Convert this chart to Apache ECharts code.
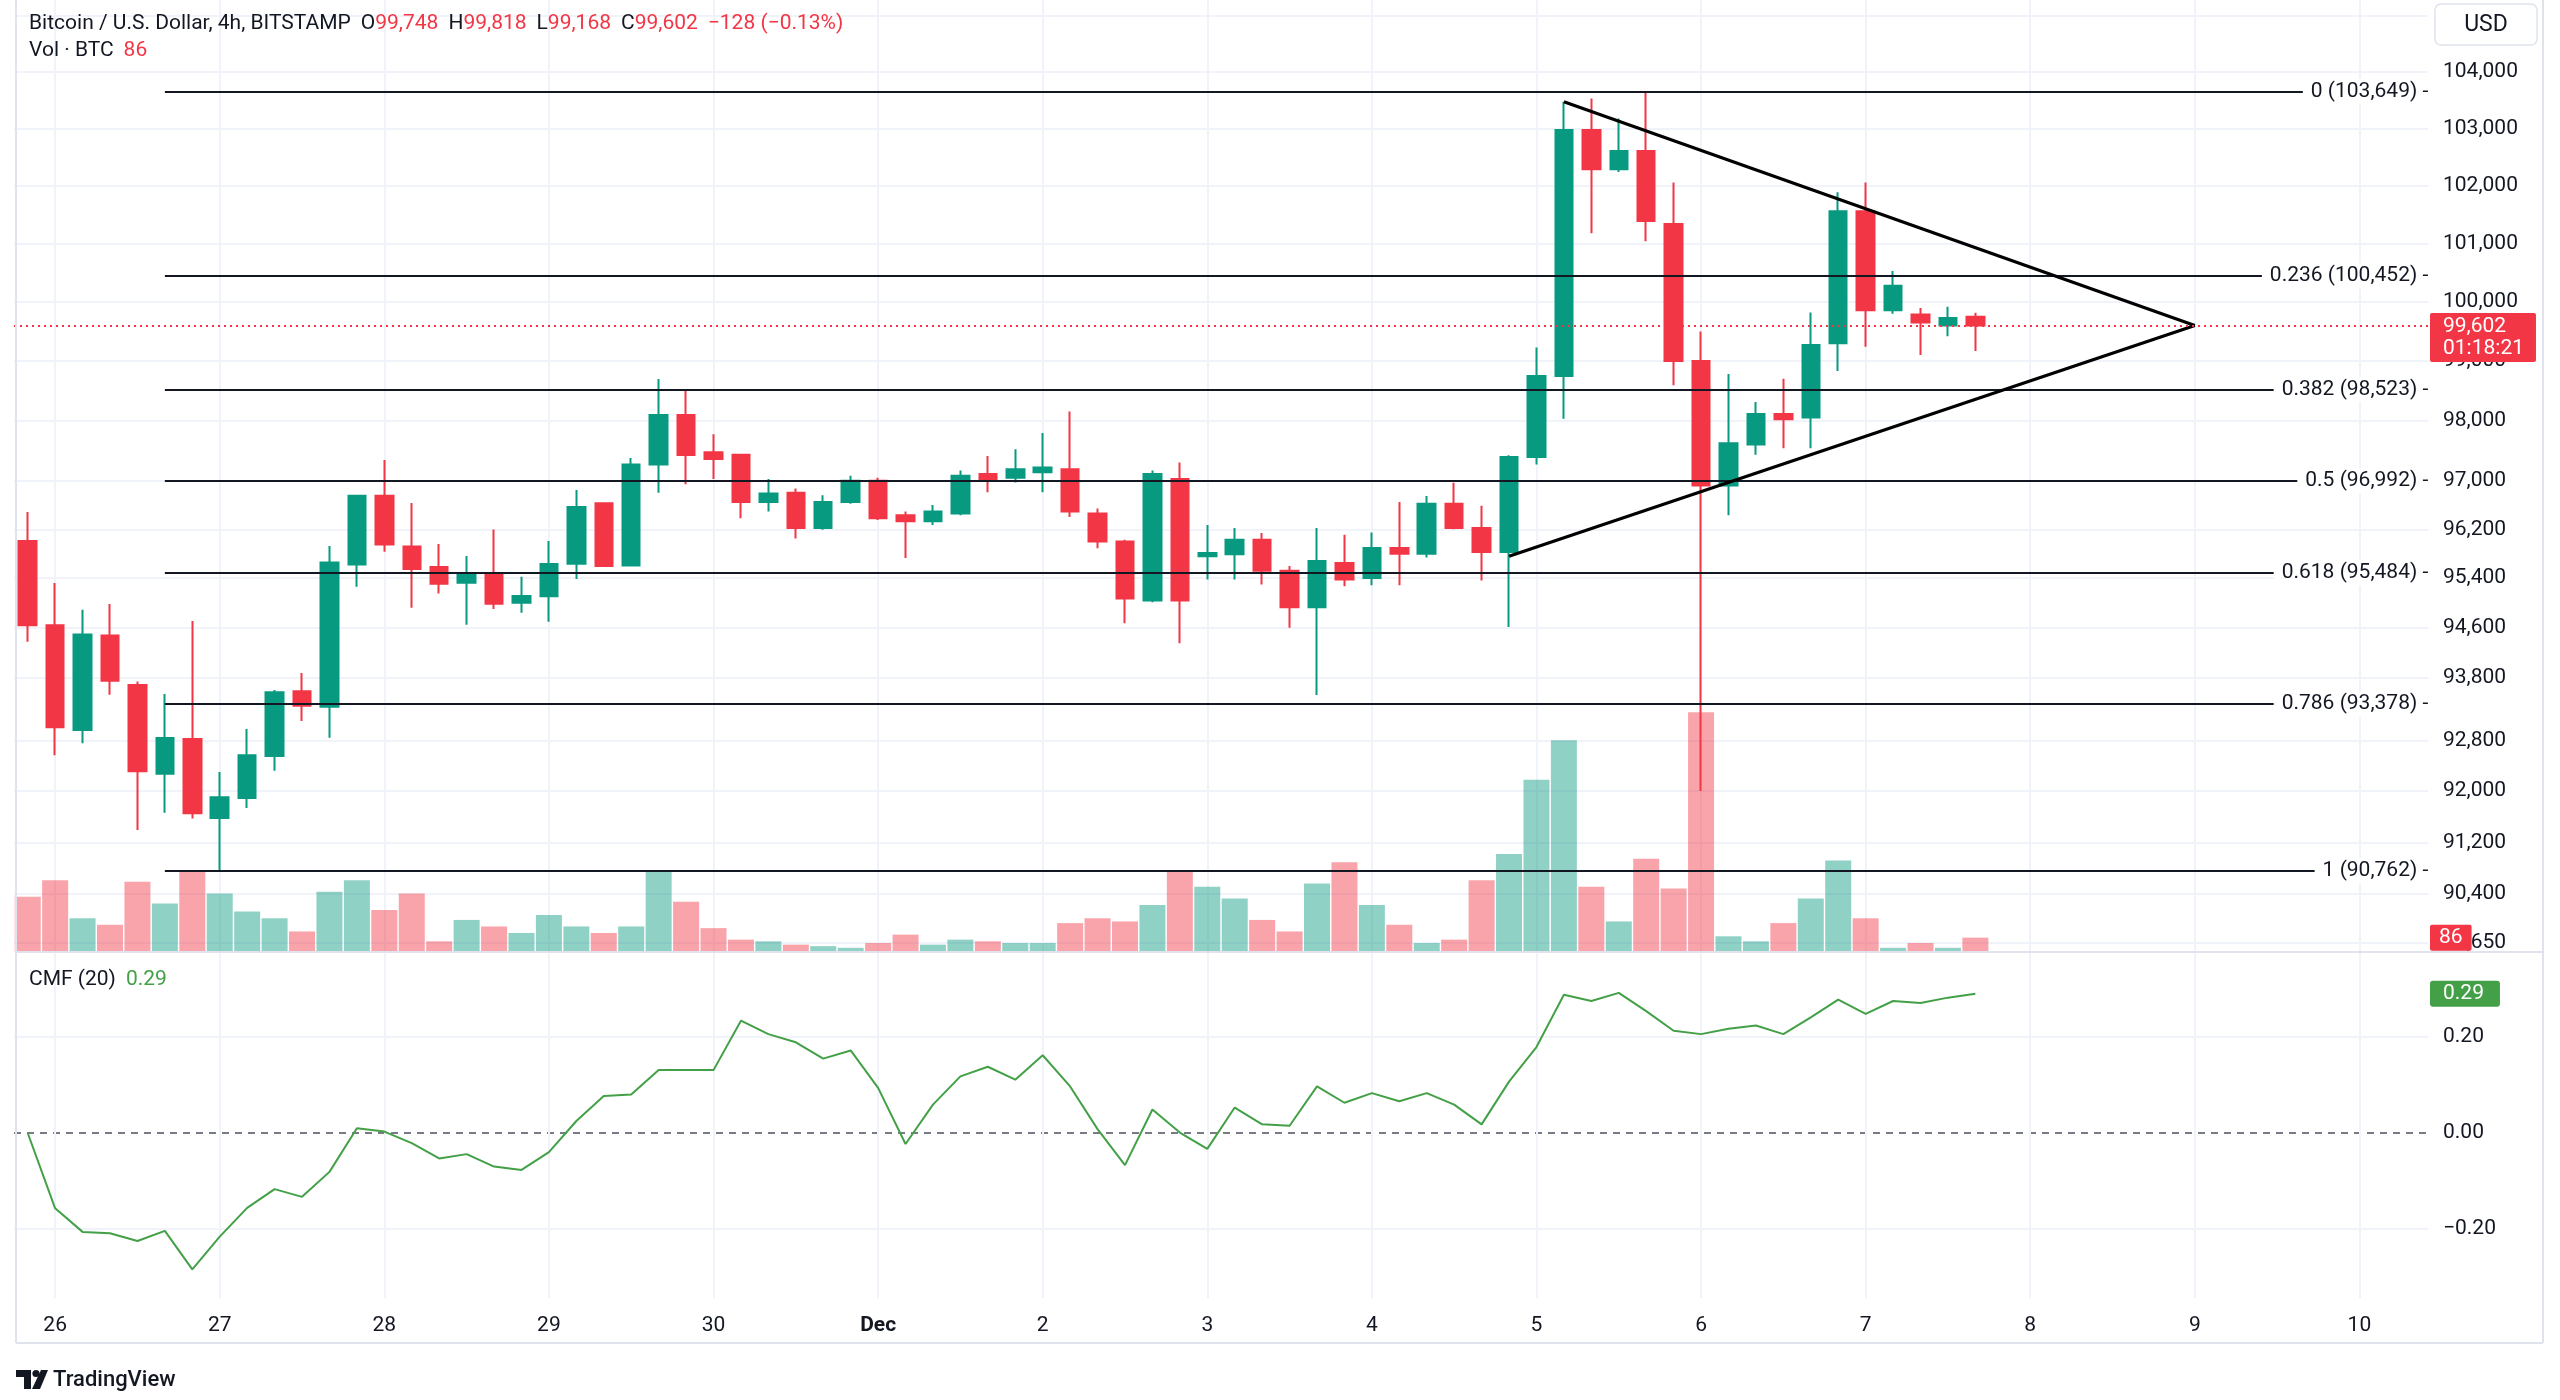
<!DOCTYPE html>
<html><head><meta charset="utf-8">
<script src="https://cdn.jsdelivr.net/npm/echarts@6/dist/echarts.min.js"></script>
<style>html,body{margin:0;padding:0;background:#fff}#c{width:2560px;height:1400px}</style>
</head><body><div id="c"></div>
<script>
// ---------- data ----------
const openP  = [96007,94637,92963,94475,93679,92274,92820,91580,91892,92551,93579,93334,95625,96752,95919,95582,95327,95479,95003,95106,95636,96626,95609,97269,98093,97470,97430,96650,96800,96220,96650,97000,96430,96330,96460,97110,97050,97140,97190,96460,96000,95040,97030,95760,95790,96030,95520,94930,95650,95403,95893,95800,96619,96221,95828,97393,98748,102977,102290,102610,101340,99000,96920,97600,98110,98050,99300,101560,99860,99790,99600,99748];
const closeP = [94637,93005,94491,93748,92310,92836,91652,91903,92562,93563,93350,95658,96752,95952,95549,95311,95479,94987,95111,95631,96565,95598,97269,98093,97427,97360,96650,96790,96220,96650,97000,96380,96330,96490,97080,97030,97190,97220,96490,96000,95070,97110,95040,95810,96030,95520,94930,95680,95380,95893,95800,96619,96221,95828,97393,98748,102977,102290,102610,101390,99000,96920,97620,98110,98020,99270,101560,99860,100280,99650,99730,99602];
const lowP   = [94373,92562,92752,93525,91392,91662,91569,90762,91735,92321,93106,92841,95261,95831,94922,95154,94648,94900,94841,94696,95387,95590,95600,96802,96940,97030,96380,96490,96050,96190,96620,96350,95730,96270,96430,96810,96970,96810,96400,95890,94670,95010,94350,95380,95380,95300,94600,93520,95270,95285,95285,95738,96200,95363,94610,97268,98030,101180,102240,101040,98590,92000,96430,97430,97540,97540,98830,99240,99800,99100,99420,99168];
const highP  = [96483,95322,94890,94981,93737,93536,94707,92300,92979,93600,93870,95924,96760,97342,96631,95957,95762,96198,95425,96007,96846,96640,97375,98698,98505,97770,97430,97030,96870,96760,97080,97050,96490,96600,97170,97410,97520,97790,98150,96540,96030,97170,97300,96270,96220,96140,95600,96220,96110,96146,96647,96747,96965,96588,97420,99228,103475,103530,103180,103649,102060,99500,98780,98310,98700,99820,101890,102060,100530,99900,99920,99818];
const volume = [331,429,202,163,420,291,479,350,242,202,123,360,429,252,350,64,192,153,114,222,153,114,153,479,301,143,74,64,44,35,25,54,104,44,74,64,54,54,173,202,183,281,479,390,321,192,123,410,538,281,163,54,74,429,587,1031,1268,390,183,558,380,1436,94,64,173,321,548,202,25,54,25,86];
const cmf    = [0.000,-0.157,-0.206,-0.209,-0.225,-0.204,-0.284,-0.216,-0.156,-0.117,-0.133,-0.081,0.010,0.003,-0.021,-0.053,-0.044,-0.070,-0.077,-0.040,0.025,0.077,0.080,0.131,0.131,0.131,0.234,0.206,0.189,0.155,0.172,0.094,-0.023,0.059,0.118,0.138,0.111,0.162,0.097,0.008,-0.067,0.049,0.001,-0.033,0.053,0.018,0.015,0.097,0.063,0.083,0.066,0.083,0.059,0.018,0.107,0.179,0.288,0.275,0.292,0.254,0.213,0.206,0.217,0.224,0.206,0.241,0.278,0.248,0.275,0.271,0.282,0.290];
const priceTicks = [105000,104000,103000,102000,101000,100000,99000,98000,97000,96200,95400,94600,93800,92800,92000,91200,90400,89650];
const cmfTicks = [0.2, 0.0, -0.2];
const fibLevels = ['0','0.236','0.382','0.5','0.618','0.786','1'];
const fibPrices = [103649,100452,98523,96992,95484,93378,90762];
const fibStartIndex = 5;
const triUpper = [[56,103475],[79,99600]];
const triLower = [[54,95760],[79,99600]];
const lastVol = 86, lastCmf = 0.29, countdown = '01:18:21';

// ---------- categories (4h bars) ----------
const startMs = Date.UTC(2024,10,25,20);
const nCats = 88;
const categories = [], dayLabel = {};
for (let i = 0; i < nCats; i++) {
  const d = new Date(startMs + i*4*3600e3);
  const mon = d.getUTCMonth() === 10 ? 'Nov' : 'Dec';
  const key = mon + ' ' + d.getUTCDate() + ' ' + String(d.getUTCHours()).padStart(2,'0') + ':00';
  categories.push(key);
  if (d.getUTCHours() === 0) dayLabel[key] = d.getUTCDate() === 1 ? 'Dec' : String(d.getUTCDate());
}
const dayIdx = categories.map((c,i)=> dayLabel[c] ? i : -1).filter(i=>i>=0);

const fmt = v => v.toLocaleString('en-US');
const FONT = 'Roboto, "Noto Sans", sans-serif';
const TXT = '#131722', GRID = '#f0f3fa', BORDER = '#e0e3eb';
const UP = '#089981', DOWN = '#f23645';
const UPV = 'rgba(8,153,129,0.45)', DOWNV = 'rgba(242,54,69,0.45)';
const CMFC = '#43a047';

const candleData = openP.map((o,i)=>[o, closeP[i], lowP[i], highP[i]]);
const volData = volume.map((v,i)=>({value:v, itemStyle:{color: closeP[i] >= openP[i] ? UPV : DOWNV}}));
const last = openP.length - 1;
const chg = closeP[last] - closeP[last-1];
const chgPct = (chg / closeP[last-1] * 100).toFixed(2);
const minus = s => String(s).replace('-', '\u2212');

// ---------- chart ----------
const chart = echarts.init(document.getElementById('c'), null, {renderer:'canvas'});
const lbl = {color: TXT, fontSize: 21, fontFamily: FONT};

const option = {
  animation: false,
  backgroundColor: '#ffffff',
  grid: [
    {left: 14, right: 132, top: 0, height: 952},
    {left: 14, right: 132, top: 952, height: 346}
  ],
  xAxis: [
    {type:'category', gridIndex:0, data:categories, boundaryGap:true,
     axisLine:{show:false}, axisTick:{show:false}, axisLabel:{show:false}, splitLine:{show:false}},
    {type:'category', gridIndex:1, data:categories, boundaryGap:true,
     axisLine:{show:false}, axisTick:{show:false}, splitLine:{show:false},
     axisLabel:{show:true, interval:(i,v)=>!!dayLabel[v], margin:17, color:TXT, fontSize:21, fontFamily:FONT,
       formatter:v=> dayLabel[v] === 'Dec' ? '{b|Dec}' : (dayLabel[v]||''),
       rich:{b:{fontWeight:'bold', color:TXT, fontSize:21, fontFamily:FONT}}}}
  ],
  yAxis: [
    {type:'log', gridIndex:0, min:89510, max:105285, show:false, splitLine:{show:false}},
    {type:'value', gridIndex:0, min:0, max:5700, show:false, splitLine:{show:false}},
    {type:'value', gridIndex:1, min:-0.34375, max:0.37708, show:false, splitLine:{show:false}}
  ],
  series: [
    // grid lines + price labels (main pane)
    {type:'line', xAxisIndex:0, yAxisIndex:0, data:[], z:1, silent:true,
     markLine:{z:1, symbol:['none','none'], silent:true, animation:false,
       data: priceTicks.map(p=>({yAxis:p, lineStyle:{color:GRID, width:2, type:'solid'},
                 label:Object.assign({show:true, position:'end', distance:15, formatter:fmt(p)}, lbl)}))
         .concat(dayIdx.map(i=>({xAxis:i, lineStyle:{color:GRID, width:2, type:'solid'}, label:{show:false}})))}},
    // grid lines (cmf pane)
    {type:'line', xAxisIndex:1, yAxisIndex:2, data:[], z:1, silent:true,
     markLine:{z:1, symbol:['none','none'], silent:true, animation:false,
       data: cmfTicks.map(v=>({yAxis:v,
                 lineStyle: v===0 ? {color:'#787b86', width:2, type:[7,6]} : {color:GRID, width:2, type:'solid'},
                 label:Object.assign({show:true, position:'end', distance:15, formatter:minus(v.toFixed(2))}, lbl)}))
         .concat(dayIdx.map(i=>({xAxis:i, lineStyle:{color:GRID, width:2, type:'solid'}, label:{show:false}})))}},
    // volume
    {type:'bar', name:'Vol', xAxisIndex:0, yAxisIndex:1, data:volData, barWidth:26, z:2,
     markLine:{z:8, symbol:['none','none'], silent:true, animation:false,
       data:[{yAxis:lastVol, lineStyle:{color:'rgba(0,0,0,0)', width:0},
         label:{show:true, position:'end', distance:2, formatter:String(lastVol), color:'#fff', fontSize:21, fontFamily:FONT,
           backgroundColor:DOWN, padding:[3,9,2,9], borderRadius:2}}]}},
    // candles
    {type:'candlestick', name:'BTCUSD', xAxisIndex:0, yAxisIndex:0, data:candleData, barWidth:18, z:3,
     itemStyle:{color:UP, color0:DOWN, borderColor:UP, borderColor0:DOWN, borderWidth:2},
     markLine:{z:6, symbol:['none','none'], silent:true, animation:false,
       data:[{yAxis:closeP[last], lineStyle:{color:DOWN, width:2, type:[2,4]},
         label:{show:true, position:'end', distance:2, offset:[0,12],
           formatter: fmt(closeP[last]) + '\n' + countdown, color:'#fff', fontSize:21, fontFamily:FONT, lineHeight:22,
           backgroundColor:DOWN, padding:[3,12,2,13], borderRadius:2}}]}},
    // fibonacci
    {type:'line', xAxisIndex:0, yAxisIndex:0, data:[], z:4, silent:true,
     markLine:{z:4, symbol:['none','none'], silent:true, animation:false,
       data: fibPrices.map((p,k)=>[
         {coord:[fibStartIndex, p], lineStyle:{color:TXT, width:2, type:'solid'},
          label:Object.assign({show:true, position:'insideEnd', distance:-14,
            formatter: fibLevels[k] + ' (' + fmt(p) + ') -', backgroundColor:'#fff', padding:[2,0,2,8]}, lbl)},
         {coord:[nCats-1, p]}])}},
    // triangle
    {type:'line', xAxisIndex:0, yAxisIndex:0, data:[], z:5, silent:true,
     markLine:{z:5, symbol:['none','none'], silent:true, animation:false,
       data:[[{coord:triUpper[0], lineStyle:{color:'#000', width:3.2, type:'solid'}, label:{show:false}},{coord:triUpper[1]}],
             [{coord:triLower[0], lineStyle:{color:'#000', width:3.2, type:'solid'}, label:{show:false}},{coord:triLower[1]}]]}},
    // CMF
    {type:'line', name:'CMF', xAxisIndex:1, yAxisIndex:2, data:cmf, showSymbol:false, z:3,
     lineStyle:{color:CMFC, width:2}, itemStyle:{color:CMFC},
     markLine:{z:8, symbol:['none','none'], silent:true, animation:false,
       data:[{yAxis:lastCmf, lineStyle:{color:'rgba(0,0,0,0)', width:0},
         label:{show:true, position:'end', distance:2, formatter:lastCmf.toFixed(2), color:'#fff', fontSize:21, fontFamily:FONT,
           backgroundColor:CMFC, padding:[3,16,2,13], borderRadius:3}}]}}
  ],
  graphic: [
    // frame
    {type:'line', z:50, shape:{x1:16,y1:0,x2:16,y2:1343}, style:{stroke:BORDER, lineWidth:2}},
    {type:'line', z:50, shape:{x1:2543,y1:0,x2:2543,y2:1343}, style:{stroke:BORDER, lineWidth:2}},
    {type:'line', z:50, shape:{x1:16,y1:1343,x2:2543,y2:1343}, style:{stroke:BORDER, lineWidth:2}},
    {type:'line', z:50, shape:{x1:16,y1:952,x2:2543,y2:952}, style:{stroke:BORDER, lineWidth:2}},
    // legends
    {type:'text', z:60, x:29, y:24, style:{
      text:'{d|Bitcoin / U.S. Dollar, 4h, BITSTAMP}   {d|O}{r|'+fmt(openP[last])+'}   {d|H}{r|'+fmt(highP[last])+'}   {d|L}{r|'+fmt(lowP[last])+'}   {d|C}{r|'+fmt(closeP[last])+'}   {r|'+minus(chg)+' ('+minus(chgPct)+'%)}',
      verticalAlign:'middle', rich:{d:{fill:TXT, fontSize:21, fontFamily:FONT}, r:{fill:DOWN, fontSize:21, fontFamily:FONT}}}},
    {type:'text', z:60, x:29, y:51, style:{text:'{d|Vol · BTC}   {r|'+lastVol+'}', verticalAlign:'middle',
      rich:{d:{fill:TXT, fontSize:21, fontFamily:FONT}, r:{fill:DOWN, fontSize:21, fontFamily:FONT}}}},
    {type:'text', z:60, x:29, y:980, style:{text:'{d|CMF (20)}   {g|'+lastCmf.toFixed(2)+'}', verticalAlign:'middle',
      rich:{d:{fill:TXT, fontSize:21, fontFamily:FONT}, g:{fill:CMFC, fontSize:21, fontFamily:FONT}}}},
    // USD box
    {type:'rect', z:60, shape:{x:2435, y:4, width:102, height:41, r:6}, style:{fill:'#fff', stroke:BORDER, lineWidth:1.5}},
    {type:'text', z:61, x:2486, y:25, style:{text:'USD', fill:TXT, fontSize:23, fontFamily:FONT, align:'center', verticalAlign:'middle'}},
    // TradingView logo
    {type:'polygon', z:60, shape:{points:[[16,1370],[31,1370],[31,1389],[24,1389],[24,1377],[16,1377]]}, style:{fill:TXT}},
    {type:'circle', z:60, shape:{cx:36, cy:1373.5, r:3.6}, style:{fill:TXT}},
    {type:'polygon', z:60, shape:{points:[[41,1370],[48,1370],[40,1389],[32,1389]]}, style:{fill:TXT}},
    {type:'text', z:60, x:53, y:1380, style:{text:'TradingView', fill:TXT, fontSize:22, fontWeight:500, fontFamily:FONT, verticalAlign:'middle'}}
  ]
};
chart.setOption(option);
</script>
</body></html>
